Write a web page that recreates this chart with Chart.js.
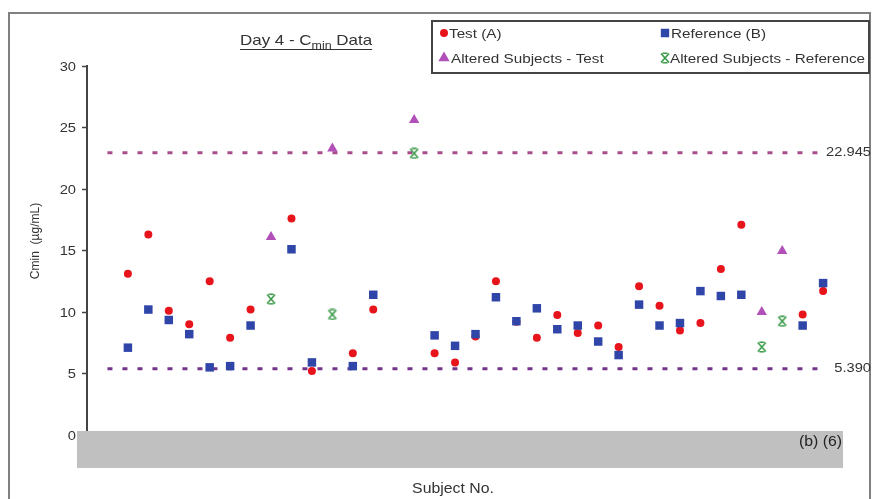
<!DOCTYPE html>
<html>
<head>
<meta charset="utf-8">
<script src="https://cdn.jsdelivr.net/npm/chart.js@4.4.1/dist/chart.umd.min.js"></script>
<style>
  html, body { margin: 0; padding: 0; background: #fff; }
  #wrap { width: 875px; height: 499px; position: relative; }
</style>
</head>
<body>
<div id="wrap"><canvas id="cminChart"></canvas></div>
<script>
// subject positions along the x axis (14 has no data)
const subjects = [1,2,3,4,5,6,7,8,9,10,11,12,13,14,15,16,17,18,19,20,21,22,23,24,25,26,27,28,29,30,31,32,33,34,35];
const testA     = [13.1,16.3,10.1,9.0,12.5,7.9,10.2,null,17.6,5.2,null,6.65,10.2,null,null,6.65,5.9,8.0,12.5,9.2,7.9,9.75,8.3,8.9,7.15,12.1,10.5,8.5,9.1,13.5,17.1,null,null,9.8,11.7];
const refB      = [7.1,10.2,9.35,8.2,5.5,5.6,8.9,null,15.1,5.9,null,5.6,11.4,null,null,8.1,7.25,8.2,11.2,9.25,10.3,8.6,8.9,7.6,6.5,10.6,8.9,9.1,11.7,11.3,11.4,null,null,8.9,12.35];
const alteredTest = [null,null,null,null,null,null,null,16.1,null,null,23.3,null,null,null,25.6,null,null,null,null,null,null,null,null,null,null,null,null,null,null,null,null,10.0,14.95,null,null];
const alteredRef  = [null,null,null,null,null,null,null,11.05,null,null,9.8,null,null,null,22.9,null,null,null,null,null,null,null,null,null,null,null,null,null,null,null,null,7.15,9.25,null,null];
const upperLimit = 22.945;
const lowerLimit = 5.390;
const yTicks = [0,5,10,15,20,25,30];

const FONT = '"Liberation Sans", Arial, sans-serif';
const SX = 1.13; // the source picture is a bit stretched sideways

function pts(vals){
    return subjects.map((s,i) => ({x: s, y: vals[i]})).filter(p => p.y !== null);
}

// stretched text, align: left/right/center
function txt(c, s, x, y, align){
    const w = c.measureText(s).width * SX;
    let x0 = x;
    if(align === 'right') x0 = x - w;
    if(align === 'center') x0 = x - w / 2;
    c.save();
    c.textAlign = 'left';
    c.translate(x0, y);
    c.scale(SX, 1);
    c.fillText(s, 0, 0);
    c.restore();
    return w;
}

// green "x" marker with caps, like the excel one
function makeStar(){
    const c = document.createElement('canvas');
    c.width = 12; c.height = 12;
    const g = c.getContext('2d');
    g.strokeStyle = '#3a9a48';
    g.lineWidth = 1.6;
    g.beginPath();
    g.moveTo(2,1.5); g.lineTo(10,10.5);
    g.moveTo(10,1.5); g.lineTo(2,10.5);
    g.moveTo(3.5,1.2); g.lineTo(8.5,1.2);
    g.moveTo(3.5,10.8); g.lineTo(8.5,10.8);
    g.stroke();
    return c;
}
const star = makeStar();

const overlay = {
    id: 'overlay',
    afterDraw(chart){
        const c = chart.ctx;
        const ys = chart.scales.y;
        c.save();
        // outer frame
        c.strokeStyle = '#808080';
        c.lineWidth = 2;
        c.strokeRect(9, 13, 861, 500);

        // title
        c.fillStyle = '#333';
        c.textBaseline = 'alphabetic';
        let x = 240;
        c.font = '15px ' + FONT;
        x += txt(c, 'Day 4 - C', x, 45, 'left');
        c.font = '11px ' + FONT;
        x += txt(c, 'min', x, 49, 'left');
        c.font = '15px ' + FONT;
        x += txt(c, ' Data', x, 45, 'left');
        c.strokeStyle = '#333';
        c.lineWidth = 1.2;
        c.beginPath(); c.moveTo(240, 49.5); c.lineTo(x, 49.5); c.stroke();

        // legend box
        c.strokeStyle = '#444';
        c.lineWidth = 2;
        c.strokeRect(432, 21, 437, 52);
        c.font = '13.5px ' + FONT;
        c.textBaseline = 'middle';
        const ds = chart.data.datasets;
        const items = [
            {i: 0, mx: 444, tx: 449, y: 33, r: 3},
            {i: 1, mx: 665, tx: 671, y: 33, r: 4.5},
            {i: 2, mx: 444, tx: 451, y: 58, r: 4.5},
            {i: 3, mx: 665, tx: 670, y: 58, r: 5}
        ];
        items.forEach(it => {
            const d = ds[it.i];
            c.fillStyle = d.backgroundColor;
            c.strokeStyle = d.borderColor;
            Chart.helpers.drawPoint(c, {pointStyle: d.pointStyle, radius: it.r, borderWidth: 1}, it.mx, it.y);
            c.fillStyle = '#333';
            txt(c, d.label, it.tx, it.y + 1, 'left');
        });

        // y tick labels
        c.font = '13px ' + FONT;
        yTicks.forEach(v => txt(c, String(v), 76, ys.getPixelForValue(v) + 1, 'right'));

        // limit labels
        txt(c, upperLimit.toFixed(3), 871, ys.getPixelForValue(upperLimit), 'right');
        txt(c, lowerLimit.toFixed(3), 871, ys.getPixelForValue(lowerLimit), 'right');

        // grey band over x tick labels
        c.fillStyle = '#c0c0c0';
        c.fillRect(77, 431, 766, 37);
        c.fillStyle = '#222';
        c.font = '14px ' + FONT;
        txt(c, '(b) (6)', 842, 442, 'right');

        // axis titles
        c.fillStyle = '#333';
        c.font = '14px ' + FONT;
        txt(c, 'Subject No.', 453, 489, 'center');
        c.translate(36, 241);
        c.rotate(-Math.PI / 2);
        c.font = '12px ' + FONT;
        c.textAlign = 'center';
        c.fillText('Cmin  (\u00b5g/mL)', 0, 0);
        c.restore();
    }
};

const ctx = document.getElementById('cminChart').getContext('2d');

const chart = new Chart(ctx, {
    type: 'scatter',
    data: {
        datasets: [
            {label: 'Test (A)', data: pts(testA), pointStyle: 'circle', pointRadius: 4, backgroundColor: '#e8141c', borderColor: '#e8141c', borderWidth: 0, order: 2},
            {label: 'Reference (B)', data: pts(refB), pointStyle: 'rect', pointRadius: 6, backgroundColor: '#2f45a8', borderColor: '#2f45a8', borderWidth: 0, order: 1},
            {label: 'Altered Subjects - Test', data: pts(alteredTest), pointStyle: 'triangle', pointRadius: 6, backgroundColor: '#b050b8', borderColor: '#b050b8', borderWidth: 0, order: 3},
            {label: 'Altered Subjects - Reference', data: pts(alteredRef), pointStyle: star, pointRadius: 6, backgroundColor: '#3a9a48', borderColor: '#3a9a48', borderWidth: 0, order: 4},
            {type: 'line', label: 'upper', data: [{x: 0, y: upperLimit}, {x: 34.75, y: upperLimit}], borderColor: '#a84d8a', borderWidth: 3, borderDash: [5, 10], pointRadius: 0, order: 6},
            {type: 'line', label: 'lower', data: [{x: 0, y: lowerLimit}, {x: 34.75, y: lowerLimit}], borderColor: '#74348c', borderWidth: 3, borderDash: [5, 10], pointRadius: 0, order: 5}
        ]
    },
    options: {
        responsive: true,
        maintainAspectRatio: false,
        animation: false,
        layout: {padding: {left: 9, right: 11, top: 66, bottom: 0}},
        plugins: {legend: {display: false}, tooltip: {enabled: false}},
        scales: {
            x: {
                type: 'linear', min: -1, max: 37,
                grid: {display: false},
                border: {display: false},
                ticks: {display: false},
                afterFit: s => { s.height = 64; }
            },
            y: {
                min: 0, max: 30,
                afterBuildTicks: s => { s.ticks = yTicks.map(v => ({value: v})); },
                grid: {drawOnChartArea: false, drawTicks: true, tickLength: 5, tickColor: '#444', tickWidth: 1.5},
                border: {display: true, color: '#444', width: 2},
                ticks: {display: false},
                afterFit: s => { s.width = 78; }
            }
        }
    },
    plugins: [overlay]
});
</script>
</body>
</html>
